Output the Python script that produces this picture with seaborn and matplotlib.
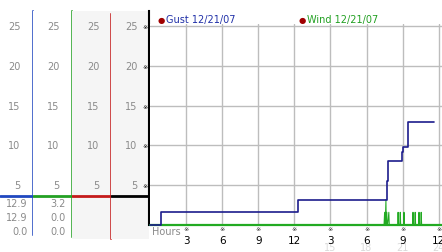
import matplotlib
matplotlib.use("Agg")
import matplotlib.pyplot as plt
import matplotlib.transforms as mtransforms
import seaborn as sns
import pandas as pd

# ---------------- data ----------------
gust_hours = [0, 0.95, 12.33, 19.68, 19.76, 20.97, 21.05, 21.42, 23.64]
gust_speed = [0, 1.6, 3.2, 5.5, 8.0, 9.2, 9.75, 12.9, 12.9]

wind_hours = [0, 19.45, 19.50, 19.55, 19.61, 19.64, 19.67, 19.71, 19.75, 19.85, 19.89,
              20.58, 20.62, 20.66, 20.76, 20.80, 20.84, 21.07, 21.11, 21.15,
              21.82, 21.86, 21.90, 22.00, 22.04, 22.08, 22.32, 22.36, 22.40, 22.50, 22.54, 22.58, 24.27]
wind_speed = [0, 0, 1.6, 0, 3.2, 0, 1.6, 0, 0, 1.6, 0,
              0, 1.6, 0, 0, 1.6, 0, 0, 1.6, 0,
              0, 1.6, 0, 0, 1.6, 0, 0, 1.6, 0, 0, 1.6, 0, 0]

y_ticks = [5, 10, 15, 20, 25]
x_ticks = [3, 6, 9, 12, 15, 18, 21, 24]
x_tick_labels = ["3", "6", "9", "12", "3", "6", "9", "12"]
x_second_ticks = [15, 18, 21, 24]
x_second_labels = ["15", "18", "21", "24"]

legend_labels = ["Gust 12/21/07", "Wind 12/21/07"]
gust_stats = ["12.9", "12.9", "0.0"]
wind_stats = ["3.2", "0.0", "0.0"]

# ---------------- styling ----------------
W, H = 442, 253
GUST = "#1c1c8c"
WIND = "#22aa22"
GRAY_TXT = "#8a8a8a"
GRID = "#bdbdbd"
col_colors = ["#1f47c0", "#23a023", "#c41a1a", "#000000"]

sns.set_theme(style="white")
plt.rcParams["font.family"] = ["DejaVu Sans"]

fig = plt.figure(figsize=(W / 100, H / 100), dpi=100)
fig.patch.set_facecolor("white")

px_per_unit = 201 / 25.28
# main axes
ax = fig.add_axes([150 / W, 27 / H, 292 / W, 201 / H])
ax.set_facecolor("white")
ax.set_xlim(0, 24.27)
ax.set_ylim(0, 25.28)

for v in x_ticks:
    ax.axvline(v, color=GRID, lw=1, zorder=0)
for v in y_ticks:
    ax.axhline(v, color=GRID, lw=1, zorder=0)

gdf = pd.DataFrame({"hour": gust_hours, "speed": gust_speed})
wdf = pd.DataFrame({"hour": wind_hours, "speed": wind_speed})
sns.lineplot(data=wdf, x="hour", y="speed", ax=ax, color=WIND, lw=0.75,
             estimator=None, sort=False, clip_on=False, zorder=3)
sns.lineplot(data=gdf, x="hour", y="speed", ax=ax, color=GUST, lw=1.2,
             estimator=None, sort=False, drawstyle="steps-post", clip_on=False, zorder=4)
ax.axhline(0, color=WIND, lw=1.6, zorder=2, clip_on=False)

for s in ["top", "right", "left", "bottom"]:
    ax.spines[s].set_visible(False)

ax.set_xlabel("")
ax.set_ylabel("")
ax.set_xticks(x_ticks)
ax.set_xticklabels(x_tick_labels, fontsize=7.5, color="black")
ax.tick_params(axis="x", length=0, pad=7.5)
ax.set_yticks(y_ticks)
ax.set_yticklabels(["\u203b"] * len(y_ticks), fontsize=4.5, color="black")
ax.tick_params(axis="y", length=0, pad=2)

bt = mtransforms.blended_transform_factory(ax.transData, fig.transFigure)
for v in x_ticks:
    ax.text(v, 1 - 230 / H, "\u203b", transform=bt, fontsize=4.5, ha="center", va="center")
for v, lab in zip(x_second_ticks, x_second_labels):
    ax.text(v, 1 - 248.5 / H, lab, transform=bt, fontsize=7, ha="center", va="center",
            color="#dadada", zorder=-5)
fig.text(152 / W, 1 - 232 / H, "Hours", fontsize=7, color=GRAY_TXT, ha="left", va="center")

# legend
fig.text(161 / W, 1 - 20 / H, "\u25cf", fontsize=6, color="#a00000", ha="center", va="center")
fig.text(166 / W, 1 - 20 / H, legend_labels[0], fontsize=7, color="#2030a8", ha="left", va="center")
fig.text(302 / W, 1 - 20 / H, "\u25cf", fontsize=6, color="#a00000", ha="center", va="center")
fig.text(307 / W, 1 - 20 / H, legend_labels[1], fontsize=7, color="#22a022", ha="left", va="center")

# ---------------- left panel columns ----------------
col_edges = [0, 33, 72, 111, 149]
col_bg = ["white", "white", "#f5f5f5", "#f5f5f5"]
ybot = -14 / px_per_unit
ytop = 214 / px_per_unit
spine_bottoms = [-10 / px_per_unit, -12 / px_per_unit, -14 / px_per_unit, 0]
spine_tops = [ytop, ytop, 211 / px_per_unit, ytop]
sep_level = 29.5 / px_per_unit
label_right = [0.62, 0.68, 0.70, 0.70]

for i in range(4):
    x0, x1 = col_edges[i], col_edges[i + 1]
    cax = fig.add_axes([x0 / W, 13 / H, (x1 - x0) / W, 228 / H], zorder=-1)
    cax.set_facecolor(col_bg[i])
    cax.set_xlim(0, 1)
    cax.set_ylim(ybot, ytop)
    cax.set_xticks([])
    cax.set_yticks([])
    for s in ["top", "left", "bottom"]:
        cax.spines[s].set_visible(False)
    sp = cax.spines["right"]
    sp.set_visible(True)
    sp.set_color(col_colors[i])
    sp.set_linewidth(1.5 if i == 3 else 1.1)
    sp.set_bounds(spine_bottoms[i], spine_tops[i])
    cax.axhline(sep_level, color=col_colors[i], lw=2.0)
    for v in y_ticks:
        cax.text(label_right[i], v, str(v), fontsize=7, color=GRAY_TXT, ha="right", va="center")
    if i in (0, 1):
        stats = gust_stats if i == 0 else wind_stats
        for r, s in enumerate(stats):
            cax.text(0.83, (226 - 204 - 14 * r) / px_per_unit, s, fontsize=7,
                     color=GRAY_TXT, ha="right", va="center")

fig.savefig("out.png", dpi=100)
